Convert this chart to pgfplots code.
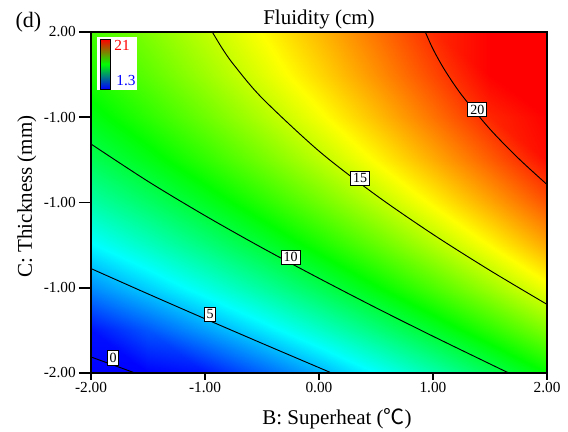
\documentclass[border=0pt]{standalone}
\usepackage{pgfplots}
\pgfplotsset{compat=1.18}
\usepackage{fontspec}
\setmainfont{Liberation Serif}
\newfontfamily\cjk{Noto Sans CJK SC}
\begin{document}
\begin{tikzpicture}
\useasboundingbox (-68.25pt,-44.25pt) rectangle (357.75pt,279.75pt);
\begin{axis}[
  name=ax, at={(0,0)}, anchor=south west,
  scale only axis, width=342pt, height=255.75pt,
  xmin=-2, xmax=2, ymin=-2, ymax=2,
  colormap={de}{rgb255=(0,0,255) rgb255=(0,255,255) rgb255=(0,255,0) rgb255=(255,255,0) rgb255=(255,0,0)},
  point meta min=1.3, point meta max=21,
  xtick={-2,-1,0,1,2}, xticklabels={-2.00,-1.00,0.00,1.00,2.00},
  ytick={-2,-1,0,1,2}, yticklabels={-2.00,-1.00,-1.00,-1.00,2.00},
  tick align=outside, tick pos=left,
  xtick style={line width=1.4pt, black, /pgfplots/major tick length=5.25pt},
  ytick style={line width=1.4pt, black, /pgfplots/major tick length=9pt},
  axis line style={line width=1.4pt},
  ticklabel style={font=\fontsize{11.5}{13}\selectfont},
  xticklabel style={inner sep=0.5pt, yshift=-2.25pt},
  yticklabel style={inner sep=1.5pt, xshift=-5.5pt},
  axis on top,
]
\addplot[surf, shader=interp, mesh/cols=9, point meta=explicit] table[meta=f] {
x y f
-2 -2 -1.04
-1.5 -2 0.31
-1 -2 1.71
-0.5 -2 3.16
0 -2 4.66
0.5 -2 6.21
1 -2 7.80
1.5 -2 9.45
2 -2 11.14

-2 -1.5 1.63
-1.5 -1.5 2.96
-1 -1.5 4.33
-0.5 -1.5 5.76
0 -1.5 7.24
0.5 -1.5 8.76
1 -1.5 10.33
1.5 -1.5 11.95
2 -1.5 13.62

-2 -1 4.02
-1.5 -1 5.32
-1 -1 6.68
-0.5 -1 8.08
0 -1 9.53
0.5 -1 11.03
1 -1 12.58
1.5 -1 14.18
2 -1 15.82

-2 -0.5 6.12
-1.5 -0.5 7.41
-1 -0.5 8.74
-0.5 -0.5 10.12
0 -0.5 11.55
0.5 -0.5 13.02
1 -0.5 14.55
1.5 -0.5 16.12
2 -0.5 17.75

-2 0 7.95
-1.5 0 9.21
-1 0 10.52
-0.5 0 11.87
0 0 13.28
0.5 0 14.73
1 0 16.24
1.5 0 17.79
2 0 19.39

-2 0.5 9.50
-1.5 0.5 10.73
-1 0.5 12.02
-0.5 0.5 13.35
0 0.5 14.74
0.5 0.5 16.17
1 0.5 17.65
1.5 0.5 19.18
2 0.5 20.75

-2 1 10.76
-1.5 1 11.98
-1 1 13.24
-0.5 1 14.55
0 1 15.91
0.5 1 17.32
1 1 18.78
1.5 1 20.28
2 1 21.84

-2 1.5 11.75
-1.5 1.5 12.94
-1 1.5 14.18
-0.5 1.5 15.47
0 1.5 16.81
0.5 1.5 18.19
1 1.5 19.62
1.5 1.5 21.11
2 1.5 22.64

-2 2 12.46
-1.5 2 13.63
-1 2 14.84
-0.5 2 16.11
0 2 17.42
0.5 2 18.78
1 2 20.19
1.5 2 21.65
2 2 23.16
};
\addplot[black, line width=0.7pt, smooth] coordinates {(-2,-1.812) (-1.8,-1.909) (-1.614,-2)};
\addplot[black, line width=0.7pt, smooth] coordinates {(-2,-0.775) (-1.5,-1.072) (-1,-1.364) (-0.5,-1.652) (0,-1.937) (0.111,-2)};
\addplot[black, line width=0.7pt, smooth] coordinates {(-2,0.686) (-1.5,0.248) (-1,-0.154) (-0.5,-0.531) (0,-0.889) (0.5,-1.235) (1,-1.569) (1.5,-1.894) (1.665,-2)};
\addplot[black, line width=0.7pt, smooth] coordinates {(-0.936,2) (-0.85,1.810) (-0.75,1.620) (-0.5,1.226) (0,0.603) (0.5,0.086) (1,-0.374) (1.5,-0.797) (2,-1.195)};
\addplot[black, line width=0.7pt, smooth] coordinates {(0.9325,2) (1,1.800) (1.1,1.560) (1.25,1.264) (1.5,0.860) (1.75,0.517) (2,0.211)};
\tikzset{clab/.style={draw=black, line width=0.7pt, fill=white, inner sep=1.8pt, font=\fontsize{10.5}{12}\selectfont}}
\node[clab] at (axis cs:-1.807,-1.824) {0};
\node[clab] at (axis cs:-0.956,-1.309) {5};
\node[clab] at (axis cs:-0.248,-0.644) {10};
\node[clab] at (axis cs:0.360,0.286) {15};
\node[clab] at (axis cs:1.389,1.091) {20};
\fill[white] (axis cs:-1.947,1.941) rectangle (axis cs:-1.596,1.318);
\shadedraw[top color=red, bottom color=blue, middle color=green, draw=black, line width=0.5pt] (axis cs:-1.915,1.914) rectangle (axis cs:-1.827,1.333);
\node[text=red, font=\fontsize{11.5}{13}\selectfont] at (axis cs:-1.728,1.847) {21};
\node[text=blue, font=\fontsize{11.5}{13}\selectfont] at (axis cs:-1.693,1.435) {1.3};
\end{axis}
\node[anchor=base, font=\fontsize{15.75}{18}\selectfont] at (171pt,261pt) {Fluidity (cm)};
\node[anchor=base, font=\fontsize{15.75}{18}\selectfont] at (184.5pt,-39pt) {B: Superheat ({\cjk ℃})};
\node[anchor=base, rotate=90, font=\fontsize{15.75}{18}\selectfont] at (-44.25pt,132.4pt) {C: Thickness (mm)};
\node[anchor=base, font=\fontsize{16.5}{19}\selectfont] at (-46.9pt,258.75pt) {(d)};
\end{tikzpicture}
\end{document}
